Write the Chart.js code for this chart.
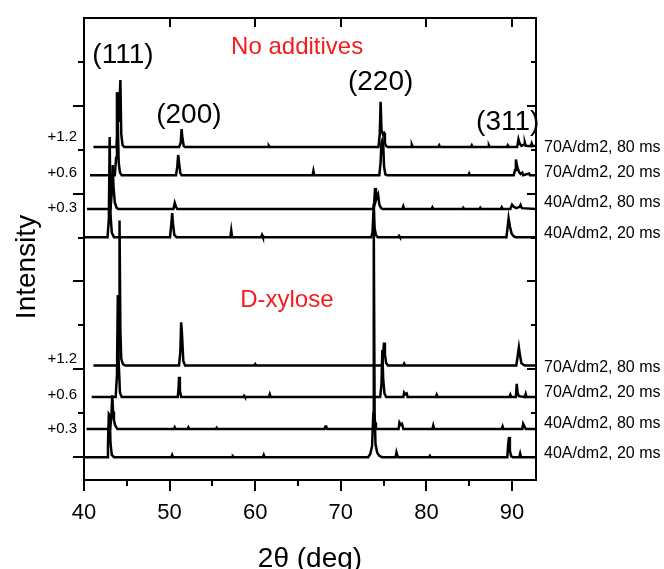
<!DOCTYPE html>
<html>
<head>
<meta charset="utf-8">
<title>XRD patterns</title>
<script src="https://cdn.jsdelivr.net/npm/chart.js@4.4.1/dist/chart.umd.min.js"></script>
<style>
    html, body { margin: 0; padding: 0; background: #fff; }
    #wrap { width: 664px; height: 569px; }
</style>
</head>
<body>
<div id="wrap"><canvas id="xrd" width="664" height="569"></canvas></div>
<script>
// axis ranges and ticks
const xMin = 40;
const xMax = 92.8;
const xMajor = [40, 50, 60, 70, 80, 90];
const xMinor = [45, 55, 65, 75, 85];
const yMin = -0.52;
const yMax = 10;
const yMajor = [0, 2, 4, 6, 8];
const yMinor = [1, 3, 5, 7, 9];

// trace names (right side), top to bottom
const seriesNames = [
    '70A/dm2, 80 ms', '70A/dm2, 20 ms', '40A/dm2, 80 ms', '40A/dm2, 20 ms',
    '70A/dm2, 80 ms', '70A/dm2, 20 ms', '40A/dm2, 80 ms', '40A/dm2, 20 ms'
];
// vertical shift of each trace
const seriesOffsets = [7.06, 6.42, 5.65, 5.01, 2.09, 1.37, 0.64, 0];
const shiftLabels = ['+1.2', '+0.6', '+0.3', '+1.2', '+0.6', '+0.3'];
const peakLabels = ['(111)', '(200)', '(220)', '(311)'];
const groupLabels = ['No additives', 'D-xylose'];

// [2theta, intensity]
// No additives
const noAdd70A80 = [[41.1,0],[43.8,0],[43.9,0.3],[44.0,1.25],[44.1,0.6],[44.15,1.0],[44.25,1.53],[44.35,0.3],[44.5,0.05],[44.7,0],
    [51.1,0],[51.3,0.1],[51.4,0.41],[51.5,0.2],[51.65,0.03],[51.8,0],[61.5,0],[61.6,0.03],[61.7,0],
    [74.4,0],[74.55,0.3],[74.65,1.03],[74.75,0.4],[74.9,0.3],[75.05,0.32],[75.15,0.1],[75.3,0.02],[75.5,0],
    [78.2,0],[78.3,0.05],[78.4,0],[81.4,0],[81.5,0.04],[81.6,0],[85.2,0],[85.3,0.04],[85.4,0],[87.2,0],[87.3,0.04],[87.4,0],
    [89.4,0],[89.5,0.04],[89.6,0],[90.6,0],[90.75,0.18],[90.9,0.08],[91.1,0.03],[91.4,0.06],[91.5,0.1],[91.6,0.03],
    [92.2,0.02],[92.3,0.08],[92.4,0.02],[92.8,0.03]];
const noAdd70A20 = [[40.7,0],[43.6,0],[43.75,0.4],[43.85,1.89],[43.95,1.2],[44.05,0.3],[44.2,0.06],[44.4,0],
    [50.75,0],[50.9,0.2],[51.0,0.46],[51.1,0.3],[51.25,0.05],[51.4,0],[66.7,0],[66.8,0.1],[66.9,0],
    [74.5,0],[74.65,0.3],[74.75,0.75],[74.85,0.8],[74.95,0.7],[75.05,0.2],[75.2,0.02],[75.4,0],
    [84.9,0],[85.0,0.04],[85.1,0],[90.2,0],[90.35,0.12],[90.45,0.36],[90.6,0.2],[90.8,0.08],[91.0,0.03],[91.2,0.06],[91.3,0],
    [92.0,0.04],[92.1,0],[92.8,0]];
const noAdd40A80 = [[40.35,0],[43.1,0],[43.25,0.4],[43.35,1.0],[43.45,0.5],[43.6,0.15],[43.8,0.03],[44.0,0],
    [50.45,0],[50.6,0.14],[50.75,0.05],[50.9,0],[73.8,0],[73.9,0.15],[74.0,0.48],[74.1,0.2],[74.25,0.3],[74.35,0.34],[74.5,0.1],[74.7,0.02],[74.9,0],
    [77.2,0],[77.3,0.06],[77.4,0],[80.6,0],[80.7,0.04],[80.8,0],[84.2,0],[84.3,0.03],[84.4,0],[86.2,0],[86.3,0.03],[86.4,0],
    [88.7,0],[88.8,0.04],[88.9,0],[89.8,0],[90.0,0.1],[90.2,0.05],[90.5,0.02],[90.9,0.05],[91.0,0.09],[91.15,0.02],[92.8,0]];
const noAdd40A20 = [[40,0],[42.75,0],[42.9,0.4],[43.0,2.28],[43.1,0.5],[43.25,0.1],[43.5,0],
    [50.05,0],[50.2,0.3],[50.3,0.55],[50.4,0.3],[50.55,0.05],[50.8,0],[57.1,0],[57.2,0.15],[57.3,0],[60.7,0],[60.8,0.05],[60.9,0],
    [73.55,0],[73.7,0.1],[73.85,0.75],[73.95,0.2],[74.1,0.05],[74.3,0],[76.7,0],[76.8,0.03],[76.9,0],
    [89.35,0],[89.5,0.25],[89.6,0.43],[89.75,0.25],[89.95,0.08],[90.2,0.02],[90.4,0],[92.8,0]];
// D-xylose
const xyl70A80 = [[41.1,0],[43.9,0],[44.0,0.3],[44.1,1.5],[44.15,3.3],[44.25,0.8],[44.35,0.15],[44.55,0.03],[44.8,0],
    [51.1,0],[51.25,0.3],[51.35,0.98],[51.45,0.7],[51.6,0.1],[51.8,0],[59.9,0],[60.0,0.03],[60.1,0],
    [74.8,0],[74.95,0.3],[75.05,0.52],[75.15,0.25],[75.3,0.05],[75.5,0],[77.3,0],[77.4,0.04],[77.5,0],
    [90.5,0],[90.65,0.2],[90.8,0.41],[90.95,0.2],[91.1,0.05],[91.3,0.02],[91.5,0],[92.8,0]];
const xyl70A20 = [[40.9,0],[43.7,0],[43.85,0.5],[43.95,2.32],[44.05,0.8],[44.2,0.1],[44.4,0],
    [50.95,0],[51.05,0.2],[51.1,0.46],[51.2,0.15],[51.35,0],[58.6,0],[58.7,0.03],[58.8,0],[61.6,0],[61.7,0.06],[61.8,0],
    [74.6,0],[74.75,0.3],[74.85,1.07],[74.95,0.4],[75.1,0.08],[75.3,0],[77.3,0],[77.4,0.1],[77.55,0.06],[77.7,0.08],[77.8,0],
    [81.1,0],[81.2,0.05],[81.3,0],[89.7,0],[89.8,0.05],[89.9,0],[90.45,0],[90.55,0.3],[90.65,0.1],[90.8,0.02],
    [91.5,0],[91.6,0.07],[91.7,0],[92.8,0]];
const xyl40A80 = [[40.3,0],[43.05,0],[43.2,0.3],[43.3,0.77],[43.4,0.4],[43.5,0.2],[43.65,0.08],[43.9,0],
    [50.5,0],[50.6,0.04],[50.7,0],[52.1,0],[52.2,0.04],[52.3,0],[55.4,0],[55.5,0.03],[55.6,0],
    [68.1,0],[68.2,0.06],[68.3,0.06],[68.4,0],[73.9,0],[74.0,0.15],[74.1,0],
    [76.75,0],[76.85,0.15],[77.0,0.1],[77.15,0.12],[77.3,0],[80.7,0],[80.8,0.08],[80.9,0],
    [88.8,0],[88.9,0.06],[89.0,0],[91.2,0],[91.3,0.12],[91.45,0.06],[91.6,0],[92.8,0]];
const xyl40A20 = [[40,0],[42.7,0],[42.8,0.3],[42.9,0.98],[43.0,0.95],[43.1,0.3],[43.25,0.05],[43.5,0],
    [50.2,0],[50.3,0.05],[50.4,0],[57.3,0],[57.4,0.02],[57.5,0],[60.9,0],[61.0,0.05],[61.1,0],
    [73.2,0],[73.45,0.08],[73.65,0.25],[73.8,1.0],[73.85,5.2],[73.95,1.0],[74.05,0.3],[74.25,0.1],[74.5,0.03],[74.8,0],
    [76.4,0],[76.5,0.11],[76.6,0.04],[76.7,0],[80.3,0],[80.4,0.03],[80.5,0],
    [89.45,0],[89.55,0.3],[89.65,0.46],[89.75,0.15],[89.9,0.02],[90.1,0],[90.85,0],[90.95,0.08],[91.05,0],[92.8,0]];

const traces = [noAdd70A80, noAdd70A20, noAdd40A80, noAdd40A20, xyl70A80, xyl70A20, xyl40A80, xyl40A20];

// where the texts go (data units)
const FONT = "'Liberation Sans', Arial, Helvetica, sans-serif";
const nameY = [7.06, 6.47, 5.79, 5.10, 2.03, 1.46, 0.77, 0.09];
const shiftY = [7.29, 6.47, 5.67, 2.23, 1.41, 0.64];
const peakPos = [[44.55, 9.16], [52.25, 7.79], [74.65, 8.54], [89.5, 7.63]];
const groupPos = [[64.9, 9.34], [63.7, 3.58]];

const frameAndText = {
    id: 'frameAndText',
    afterDraw(chart) {
        const { ctx, chartArea: a, scales: { x, y } } = chart;
        ctx.save();
        ctx.strokeStyle = '#000';
        ctx.lineWidth = 2;
        ctx.beginPath();
        // mirrored frame
        ctx.moveTo(a.left, a.top);
        ctx.lineTo(a.right, a.top);
        ctx.lineTo(a.right, a.bottom);
        // x ticks: outward at the bottom, inward at the top
        xMajor.forEach(v => {
            const px = Math.round(x.getPixelForValue(v));
            ctx.moveTo(px, a.bottom); ctx.lineTo(px, a.bottom + 11);
            ctx.moveTo(px, a.top); ctx.lineTo(px, a.top + 9);
        });
        xMinor.forEach(v => {
            const px = Math.round(x.getPixelForValue(v));
            ctx.moveTo(px, a.bottom); ctx.lineTo(px, a.bottom + 6);
        });
        // y ticks: outward on the left, inward on the right
        yMajor.forEach(v => {
            const py = Math.round(y.getPixelForValue(v));
            ctx.moveTo(a.left, py); ctx.lineTo(a.left - 11, py);
            ctx.moveTo(a.right, py); ctx.lineTo(a.right - 9, py);
        });
        yMinor.forEach(v => {
            const py = Math.round(y.getPixelForValue(v));
            ctx.moveTo(a.left, py); ctx.lineTo(a.left - 6, py);
            ctx.moveTo(a.right, py); ctx.lineTo(a.right - 5, py);
        });
        ctx.stroke();

        ctx.fillStyle = '#000';
        ctx.textBaseline = 'middle';

        // trace names
        ctx.font = '16px ' + FONT;
        ctx.textAlign = 'left';
        seriesNames.forEach((t, i) => ctx.fillText(t, a.right + 8, y.getPixelForValue(nameY[i])));

        // shift labels
        ctx.font = '15px ' + FONT;
        ctx.textAlign = 'right';
        shiftLabels.forEach((t, i) => ctx.fillText(t, a.left - 7, y.getPixelForValue(shiftY[i])));

        // peak indices
        ctx.font = '28px ' + FONT;
        ctx.textAlign = 'center';
        peakLabels.forEach((t, i) => ctx.fillText(t, x.getPixelForValue(peakPos[i][0]), y.getPixelForValue(peakPos[i][1])));

        // group names
        ctx.fillStyle = '#f41c1c';
        ctx.font = '24px ' + FONT;
        groupLabels.forEach((t, i) => ctx.fillText(t, x.getPixelForValue(groupPos[i][0]), y.getPixelForValue(groupPos[i][1])));

        // y title
        ctx.fillStyle = '#000';
        ctx.font = '28px ' + FONT;
        ctx.translate(27, (a.top + a.bottom) / 2 + 18);
        ctx.rotate(-Math.PI / 2);
        ctx.fillText('Intensity', 0, 0);
        ctx.restore();
    }
};

new Chart(document.getElementById('xrd'), {
    type: 'line',
    data: {
        datasets: traces.map((pts, i) => ({
            label: seriesNames[i],
            data: pts.map(p => ({ x: p[0], y: p[1] + seriesOffsets[i] })),
            borderColor: '#000',
            borderWidth: 2.5,
            pointRadius: 0,
            tension: 0,
            fill: false
        }))
    },
    options: {
        responsive: false,
        animation: false,
        devicePixelRatio: 1,
        layout: { padding: { left: 0, right: 128, top: 18, bottom: 0 } },
        plugins: { legend: { display: false }, tooltip: { enabled: false } },
        scales: {
            x: {
                type: 'linear',
                min: xMin,
                max: xMax,
                afterBuildTicks: s => { s.ticks = xMajor.map(v => ({ value: v })); },
                afterFit: s => { s.height = 89; },
                grid: { display: false, drawTicks: false },
                border: { display: true, color: '#000', width: 2 },
                ticks: { color: '#000', padding: 20, maxRotation: 0, autoSkip: false, font: { family: FONT, size: 22 } },
                title: { display: true, text: '2θ (deg)', color: '#000', font: { family: FONT, size: 28 }, padding: { top: 0, bottom: -7 } }
            },
            y: {
                type: 'linear',
                min: yMin,
                max: yMax,
                afterFit: s => { s.width = 84; },
                grid: { display: false, drawTicks: false },
                border: { display: true, color: '#000', width: 2 },
                ticks: { display: false }
            }
        }
    },
    plugins: [frameAndText]
});
</script>
</body>
</html>
